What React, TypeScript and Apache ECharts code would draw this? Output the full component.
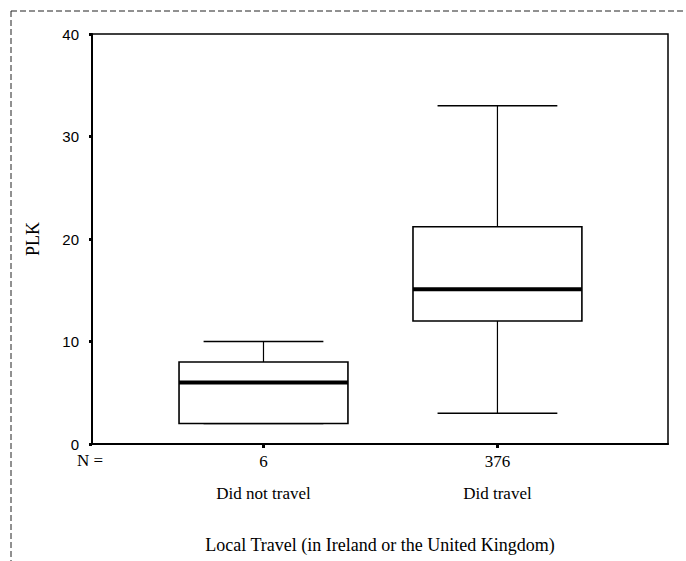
import React, { useEffect, useRef } from "react";
import * as echarts from "echarts";

// Groups along the x-axis, with their sample sizes
const categories = ["Did not travel", "Did travel"];
const counts = [6, 376];

// Five-number summaries of PLK per group
const lowerWhisker = [2, 3];
const quartile1 = [2, 12];
const medians = [6, 15.1];
const quartile3 = [8, 21.2];
const upperWhisker = [10, 33];

// y-axis ticks
const yTicks = [0, 10, 20, 30, 40];

const SERIF = "'Liberation Serif', 'DejaVu Serif', serif";
const SANS = "'Liberation Sans', 'DejaVu Sans', sans-serif";

export default function App() {
  const ref = useRef<HTMLDivElement>(null);

  useEffect(() => {
    if (!ref.current) return;
    const chart = echarts.init(ref.current, undefined, { renderer: "svg" });

    const positions = categories.map((_, i) => i + 1);
    const boxData = positions.map((x, i) => [
      x,
      lowerWhisker[i],
      quartile1[i],
      medians[i],
      quartile3[i],
      upperWhisker[i],
    ]);

    const boxHalf = 0.361; // half box width, in x units
    const capHalf = 0.256; // half whisker-cap width, in x units

    chart.setOption({
      animation: false,
      backgroundColor: "#ffffff",
      grid: {
        left: 92,
        top: 34,
        right: 18,
        bottom: 117,
        show: true,
        borderColor: "#000",
        borderWidth: 1.5,
        backgroundColor: "transparent",
      },
      xAxis: {
        type: "value",
        min: 0.267,
        max: 2.729,
        splitLine: { show: false },
        axisLine: { show: true, onZero: false, lineStyle: { color: "#000", width: 2 } },
        axisTick: {
          show: true,
          customValues: positions,
          length: 4,
          lineStyle: { color: "#000", width: 3 },
        },
        axisLabel: {
          customValues: positions,
          margin: 9,
          color: "#000",
          fontFamily: SERIF,
          fontSize: 17,
          lineHeight: 16,
          formatter: (v: number) => {
            const i = Math.round(v) - 1;
            return `${counts[i]}\n\n${categories[i]}`;
          },
        },
        name: "Local Travel (in Ireland or the United Kingdom)",
        nameLocation: "middle",
        nameGap: 92,
        nameTextStyle: { color: "#000", fontFamily: SERIF, fontSize: 18 },
      },
      yAxis: {
        type: "value",
        min: yTicks[0],
        max: yTicks[yTicks.length - 1],
        interval: 10,
        splitLine: { show: false },
        axisLine: { show: true, lineStyle: { color: "#000", width: 2 } },
        axisTick: { show: true, length: 3, lineStyle: { color: "#000", width: 3 } },
        axisLabel: {
          margin: 13,
          color: "#000",
          fontFamily: SANS,
          fontSize: 15,
        },
        name: "PLK",
        nameLocation: "middle",
        nameGap: 50,
        nameRotate: 90,
        nameTextStyle: { color: "#000", fontFamily: SERIF, fontSize: 18 },
      },
      graphic: [
        {
          type: "line",
          shape: { x1: 11, y1: 11, x2: 686, y2: 11 },
          style: { stroke: "#222", lineWidth: 1, lineDash: [6, 3] },
          silent: true,
        },
        {
          type: "line",
          shape: { x1: 11, y1: 11, x2: 11, y2: 561 },
          style: { stroke: "#222", lineWidth: 1, lineDash: [6, 3] },
          silent: true,
        },
        {
          type: "text",
          left: 77,
          top: 452,
          style: { text: "N =", fill: "#000", font: `17px ${SERIF}` },
          silent: true,
        },
      ],
      series: [
        {
          type: "custom",
          data: boxData,
          encode: { x: 0, y: [1, 2, 3, 4, 5] },
          renderItem: (params: any, api: any) => {
            const x = api.value(0);
            const lo = api.coord([x, api.value(1)]);
            const q1 = api.coord([x, api.value(2)]);
            const md = api.coord([x, api.value(3)]);
            const q3 = api.coord([x, api.value(4)]);
            const hi = api.coord([x, api.value(5)]);
            const xL = api.coord([x - boxHalf, 0])[0];
            const xR = api.coord([x + boxHalf, 0])[0];
            const cL = api.coord([x - capHalf, 0])[0];
            const cR = api.coord([x + capHalf, 0])[0];
            const cx = hi[0];
            const thin = { stroke: "#000", lineWidth: 1.2 };
            const mid = { stroke: "#000", lineWidth: 1.6 };
            return {
              type: "group",
              children: [
                { type: "line", shape: { x1: cx, y1: hi[1], x2: cx, y2: q3[1] }, style: thin },
                { type: "line", shape: { x1: cx, y1: q1[1], x2: cx, y2: lo[1] }, style: thin },
                { type: "line", shape: { x1: cL, y1: hi[1], x2: cR, y2: hi[1] }, style: mid },
                { type: "line", shape: { x1: cL, y1: lo[1], x2: cR, y2: lo[1] }, style: mid },
                {
                  type: "rect",
                  shape: { x: xL, y: q3[1], width: xR - xL, height: q1[1] - q3[1] },
                  style: { fill: "#fff", stroke: "#000", lineWidth: 1.6 },
                },
                { type: "line", shape: { x1: xL, y1: md[1], x2: xR, y2: md[1] }, style: { stroke: "#000", lineWidth: 4 } },
              ],
            };
          },
        },
      ],
    });

    return () => chart.dispose();
  }, []);

  return (
    <div
      ref={ref}
      style={{ position: "absolute", left: 0, top: 0, width: 686, height: 561 }}
    />
  );
}
